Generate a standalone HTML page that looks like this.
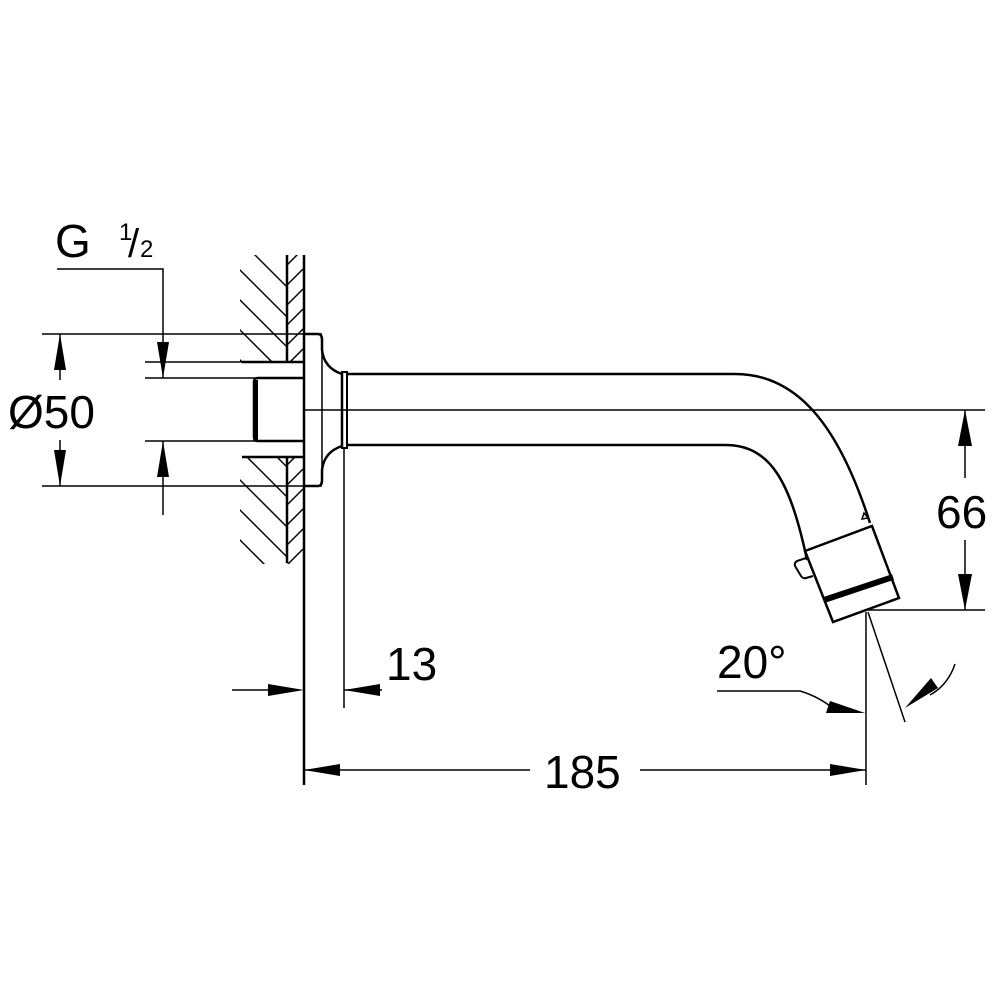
<!DOCTYPE html>
<html><head><meta charset="utf-8"><style>body{margin:0;background:#fff}svg{display:block}</style></head><body>
<svg width="1000" height="1000" viewBox="0 0 1000 1000" xmlns="http://www.w3.org/2000/svg" font-family="Liberation Sans, sans-serif">
<defs>
<clipPath id="h1"><rect x="240" y="255" width="47" height="107"/><rect x="240" y="457" width="47" height="107"/></clipPath>
<clipPath id="h2"><rect x="287" y="255" width="17" height="107"/><rect x="287" y="457" width="17" height="107"/></clipPath>
</defs>
<g stroke="#000" fill="none" stroke-width="1.5">
<g clip-path="url(#h1)">
<path d="M180 240 l120 120 M180 270 l120 120 M180 300 l120 120 M180 330 l120 120 M180 360 l120 120 M180 390 l120 120 M180 420 l120 120 M180 450 l120 120 M180 480 l120 120 M180 510 l120 120 M180 540 l120 120 M180 210 l120 120 M180 180 l120 120"/>
</g>
<g clip-path="url(#h2)">
<path d="M287 265 l30 -30 M287 285 l30 -30 M287 305 l30 -30 M287 325 l30 -30 M287 345 l30 -30 M287 365 l30 -30 M287 465 l30 -30 M287 485 l30 -30 M287 505 l30 -30 M287 525 l30 -30 M287 545 l30 -30 M287 565 l30 -30 M287 585 l30 -30"/>
</g>
<line x1="287" y1="255" x2="287" y2="362" stroke-width="2.5"/>
<line x1="287" y1="457" x2="287" y2="563" stroke-width="2.5"/>
<line x1="304" y1="255" x2="304" y2="785" stroke-width="2.5"/>
<line x1="242" y1="362" x2="304" y2="362" stroke-width="2.5"/>
<line x1="242" y1="457" x2="304" y2="457" stroke-width="2.5"/>
<line x1="145" y1="362" x2="242" y2="362"/>
<line x1="145" y1="378" x2="304" y2="378"/>
<line x1="145" y1="441" x2="304" y2="441"/>
<line x1="42" y1="334" x2="322" y2="334"/>
<line x1="42" y1="486" x2="322" y2="486"/>
<path d="M304 378 H258 Q254 378 254 382 V437 Q254 441 258 441 H304" stroke-width="2.5"/>
<line x1="256" y1="380" x2="256" y2="440" stroke-width="4"/>
<path d="M304 334 H318 Q322 334 322 340 V350 Q324 368 342 374 V446 Q324 452 322 470 V480 Q322 486 318 486 H304" stroke-width="2.5"/>
<line x1="322" y1="340" x2="322" y2="480"/>
<rect x="342" y="372" width="5" height="76" stroke-width="2"/>
<line x1="344" y1="448" x2="344" y2="708"/>
<path d="M347 374 H735 C800 374 840 430 870 523" stroke-width="2.5"/>
<path d="M347 445 H725 C770 445 790 480 807 560" stroke-width="2.5"/>
<path d="M805 551 L872 526 L899 598 L833 622 Z" stroke-width="2.5"/>
<line x1="824" y1="600" x2="893" y2="577" stroke-width="6"/>
<path d="M806 558 L797 561 Q794 563 795 566 L801 576 Q803 579 806 578 L813 576" stroke-width="2"/>
<path d="M862 519 l2 -6 l4 5 Z" stroke-width="1.5"/>
<line x1="304" y1="410" x2="985" y2="410"/>
<line x1="866" y1="610" x2="985" y2="610"/>
<line x1="965" y1="410" x2="965" y2="478"/>
<line x1="965" y1="540" x2="965" y2="610"/>
<line x1="866" y1="612" x2="866" y2="785"/>
<line x1="868" y1="612" x2="905" y2="722"/>
<path d="M717 691 H800 Q820 697 835 710"/>
<path d="M955 664 Q948 685 930 695"/>
<line x1="232" y1="690" x2="280" y2="690"/>
<line x1="344" y1="690" x2="382" y2="690"/>
<line x1="304" y1="770" x2="530" y2="770"/>
<line x1="640" y1="770" x2="866" y2="770"/>
<line x1="60" y1="334" x2="60" y2="380"/>
<line x1="60" y1="440" x2="60" y2="486"/>
<path d="M57 269 H163 V378"/>
<line x1="163" y1="441" x2="163" y2="515"/>
</g>
<g fill="#000">
<path d="M965 410 l-7 36 h14 Z"/>
<path d="M965 610 l-7 -36 h14 Z"/>
<path d="M304 690 l-36 -6 v12 Z"/>
<path d="M344 690 l36 -6 v12 Z"/>
<path d="M304 770 l36 -6 v12 Z"/>
<path d="M866 770 l-36 -6 v12 Z"/>
<path d="M60 334 l-6 36 h12 Z"/>
<path d="M60 486 l-6 -36 h12 Z"/>
<path d="M163 378 l-6 -36 h12 Z"/>
<path d="M163 441 l-6 36 h12 Z"/>
<path d="M865 713 l-35 -12 l-4 12 Z"/>
<path d="M905 708 l33 -20 l-7 -10 Z"/>
</g>
<g font-size="46" fill="#000">
<text x="55" y="257">G</text>
<text x="119" y="240" font-size="24">1</text>
<text x="128" y="257" font-size="40">/</text>
<text x="140" y="257" font-size="24">2</text>
<text x="8" y="428">Ø50</text>
<text x="386" y="680">13</text>
<text x="717" y="678">20°</text>
<text x="544" y="788">185</text>
<text x="936" y="528">66</text>
</g>
</svg>
</body></html>
